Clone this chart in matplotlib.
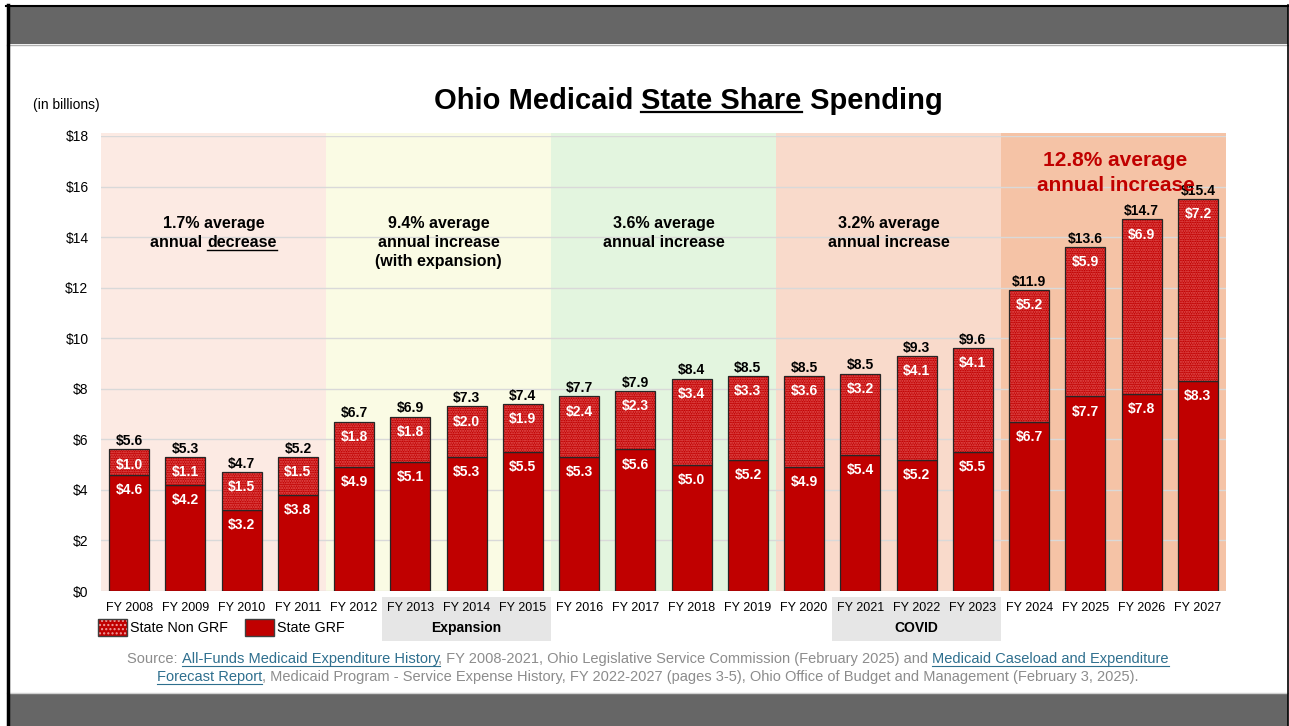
import numpy as np
import matplotlib
matplotlib.use("Agg")
import matplotlib.pyplot as plt
from matplotlib.patches import Rectangle, Patch
from matplotlib.lines import Line2D
from matplotlib import transforms

plt.rcParams['font.family'] = ['Liberation Sans', 'DejaVu Sans']
plt.rcParams['hatch.linewidth'] = 1.0

years = ['FY 2008', 'FY 2009', 'FY 2010', 'FY 2011', 'FY 2012', 'FY 2013', 'FY 2014',
         'FY 2015', 'FY 2016', 'FY 2017', 'FY 2018', 'FY 2019', 'FY 2020', 'FY 2021',
         'FY 2022', 'FY 2023', 'FY 2024', 'FY 2025', 'FY 2026', 'FY 2027']
grf = [4.6, 4.2, 3.2, 3.8, 4.9, 5.1, 5.3, 5.5, 5.3, 5.6, 5.0, 5.2, 4.9, 5.4, 5.2, 5.5,
       6.7, 7.7, 7.8, 8.3]
non_grf = [1.0, 1.1, 1.5, 1.5, 1.8, 1.8, 2.0, 1.9, 2.4, 2.3, 3.4, 3.3, 3.6, 3.2, 4.1, 4.1,
           5.2, 5.9, 6.9, 7.2]
totals = [5.6, 5.3, 4.7, 5.2, 6.7, 6.9, 7.3, 7.4, 7.7, 7.9, 8.4, 8.5, 8.5, 8.5, 9.3, 9.6,
          11.9, 13.6, 14.7, 15.4]

period_colors = ['#FCEAE3', '#FAFBE4', '#E3F5DF', '#F9DACB', '#F5C3A6']
period_notes = [
    ['1.7% average', [('annual ', False), ('decrease', True)]],
    ['9.4% average', [('annual increase', False)], [('(with expansion)', False)]],
    ['3.6% average', [('annual increase', False)]],
    ['3.2% average', [('annual increase', False)]],
]
groups = [('Expansion', 5, 7), ('COVID', 13, 15)]

RED = '#C00000'
HATCH = '#E65C5C'
EDGE = '#262626'
GRAY_TXT = '#8C8C8C'
LINK = '#2E6F8E'

W, H = 1289, 726
fig = plt.figure(figsize=(W / 100, H / 100), dpi=100)


def fx(x):
    return x / W


def fy(y):
    return 1 - y / H


# slide frame
fig.add_artist(Rectangle((fx(7), fy(44)), fx(1288) - fx(7), fy(7) - fy(44), color='#666666', lw=0))
fig.add_artist(Rectangle((fx(7), 0), fx(1288) - fx(7), fy(693), color='#666666', lw=0))
fig.add_artist(Line2D([fx(7), fx(1288)], [fy(44.5)] * 2, color='#B0B0B0', lw=1))
fig.add_artist(Line2D([fx(7), fx(1288)], [fy(692.5)] * 2, color='#D0D0D0', lw=1))
fig.add_artist(Line2D([fx(7.5), fx(7.5)], [0, fy(5)], color='black', lw=2.5))
fig.add_artist(Line2D([fx(1288), fx(1288)], [0, fy(5)], color='black', lw=1.2))
fig.add_artist(Line2D([fx(6), fx(1289)], [fy(6)] * 2, color='black', lw=1.5))

ax = fig.add_axes([fx(101), fy(591), fx(1226) - fx(101), fy(136) - fy(591)])
x = np.arange(len(years))
ax.set_xlim(-0.5, len(years) - 0.5)
ax.set_ylim(0, 18)

for i, c in enumerate(period_colors):
    ax.axvspan(i * 4 - 0.5, i * 4 + 3.5, ymax=1.007, color=c, lw=0, zorder=0, clip_on=False)

ax.yaxis.grid(True, color='#D9D9D9', lw=1, zorder=0.5)
ax.set_axisbelow(True)

bw = 0.71
ax.bar(x, grf, width=bw, color=RED, edgecolor=EDGE, lw=0.9, zorder=2)
ax.bar(x, non_grf, bottom=grf, width=bw, color=RED, edgecolor=HATCH, hatch='.......', lw=0, zorder=2)
ax.bar(x, non_grf, bottom=grf, width=bw, fill=False, edgecolor=EDGE, lw=0.9, zorder=3)

for i in range(len(years)):
    top = grf[i] + non_grf[i]
    ax.text(i, grf[i] - 0.6, f'${grf[i]:.1f}', color='white', ha='center', va='center',
            fontsize=10, fontweight='bold', zorder=4)
    ax.text(i, top - 0.6, f'${non_grf[i]:.1f}', color='white', ha='center', va='center',
            fontsize=10, fontweight='bold', zorder=4)
    ax.text(i, top + 0.05, f'${totals[i]:.1f}', color='black', ha='center', va='bottom',
            fontsize=10, fontweight='bold', zorder=4)

ax.set_yticks(range(0, 19, 2))
ax.set_yticklabels([f'${v}' for v in range(0, 19, 2)], fontsize=10)
ax.set_xticks(x)
ax.set_xticklabels(years, fontsize=9)
ax.tick_params(axis='both', length=0)
ax.tick_params(axis='y', pad=9)
ax.tick_params(axis='x', pad=8)
for s in ax.spines.values():
    s.set_visible(False)

# shaded group boxes below axis
blend = transforms.blended_transform_factory(ax.transData, fig.transFigure)
for name, a, b in groups:
    ax.add_patch(Rectangle((a - 0.5, fy(641)), b - a + 1, fy(597) - fy(641), transform=blend,
                           color='#E6E6E6', lw=0, zorder=0.1, clip_on=False))
    ax.text((a + b) / 2, fy(628), name, transform=blend, ha='center', va='center',
            fontsize=10, fontweight='bold')

fig.canvas.draw()
renderer = fig.canvas.get_renderer()


def text_width(s, **kw):
    t = fig.text(0, 0, s, **kw)
    w = t.get_window_extent(renderer).width
    t.remove()
    return w


def draw_runs(runs, xc, y, ul_lw=1.0, **kw):
    # runs: (text, color, underline)
    full = ''.join(r[0] for r in runs)
    dot = text_width('.', **kw)
    x0 = xc - text_width(full, **kw) / 2
    prefix = ''
    for s, c, ul in runs:
        start = x0 + (text_width(prefix + '.', **kw) - dot if prefix else 0)
        fig.text(fx(start), fy(y), s, color=c, ha='left', va='baseline', **kw)
        if ul:
            w = text_width(s, **kw)
            fig.add_artist(Line2D([fx(start), fx(start + w)], [fy(y + 2.5)] * 2, color=c, lw=ul_lw))
        prefix += s


# title
draw_runs([('Ohio Medicaid ', 'black', False), ('State Share', 'black', True),
           (' Spending', 'black', False)], 688, 109, ul_lw=1.6, fontsize=21, fontweight='bold')

fig.text(fx(33), fy(105), '(in billions)', fontsize=10, va='center', ha='left')

# period annotations
to_px = lambda xd: ax.transData.transform((xd, 0))[0]
for k, note in enumerate(period_notes):
    xc = to_px(k * 4 + 1.5)
    fig.text(fx(xc), fy(228), note[0], ha='center', va='baseline', fontsize=11.5, fontweight='bold')
    for j, line in enumerate(note[1:]):
        draw_runs([(s, 'black', u) for s, u in line], xc, 247 + 19 * j,
                  fontsize=11.5, fontweight='bold')

xc = to_px(17.5) + 2
fig.text(fx(xc), fy(166), '12.8% average', ha='center', va='baseline', fontsize=15,
         fontweight='bold', color=RED)
fig.text(fx(xc), fy(191), 'annual increase', ha='center', va='baseline', fontsize=15,
         fontweight='bold', color=RED, zorder=1)

# legend
h_non = (Patch(facecolor=RED, edgecolor='#F0A0A0', hatch='....', lw=0),
         Patch(fill=False, edgecolor='#404040', lw=1))
h_grf = Patch(facecolor=RED, edgecolor='#404040', lw=1)
fig.legend([h_non, h_grf], ['State Non GRF', 'State GRF'], loc='upper left',
           bbox_to_anchor=(fx(98), fy(619)), ncol=2, frameon=False, fontsize=10.3,
           handlelength=2.0, handleheight=1.5, handletextpad=0.25, columnspacing=1.2,
           borderpad=0, borderaxespad=0)

# source
src_kw = dict(fontsize=10.5)
draw_runs([('Source: ', GRAY_TXT, False), ('All-Funds Medicaid Expenditure History', LINK, True),
           (', FY 2008-2021, Ohio Legislative Service Commission (February 2025) and ', GRAY_TXT, False),
           ('Medicaid Caseload and Expenditure', LINK, True)], 648, 663, ul_lw=0.8, **src_kw)
draw_runs([('Forecast Report', LINK, True),
           (', Medicaid Program - Service Expense History, FY 2022-2027 (pages 3-5), '
            'Ohio Office of Budget and Management (February 3, 2025).', GRAY_TXT, False)],
          648, 681, ul_lw=0.8, **src_kw)

fig.savefig('out.png', dpi=100)
